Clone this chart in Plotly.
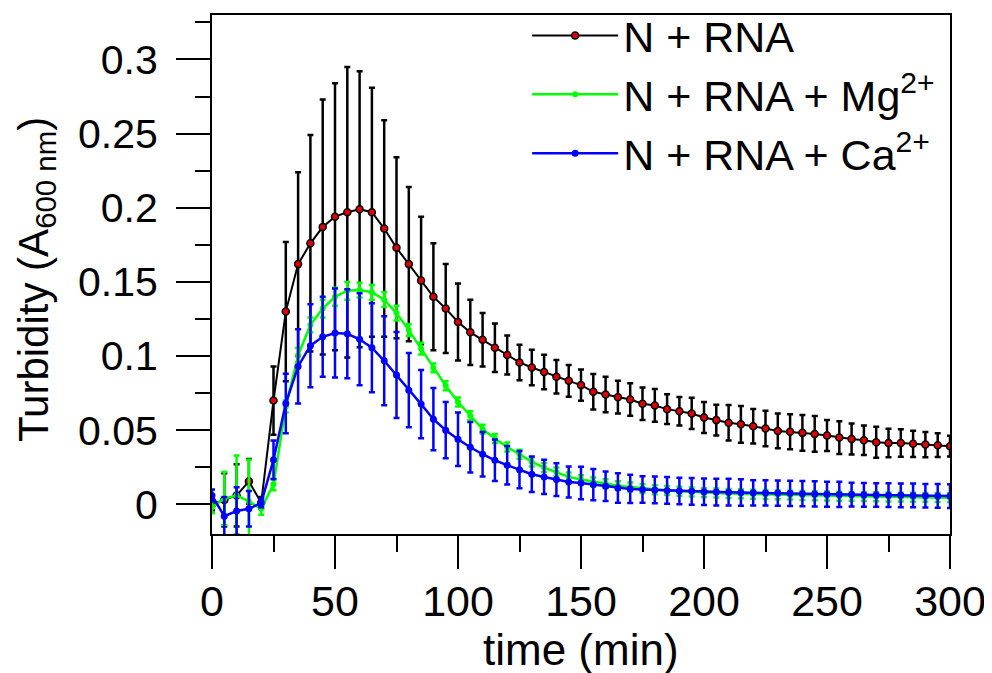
import plotly.graph_objects as go

time_min = list(range(0, 301, 5))

rna = [0.000, 0.003, 0.006, 0.0155, 0.001, 0.070, 0.130, 0.162, 0.176, 0.187,
       0.194, 0.197, 0.199, 0.197, 0.186, 0.173, 0.162, 0.151, 0.140, 0.132,
       0.123, 0.116, 0.111, 0.1056, 0.1007, 0.0957, 0.0923, 0.0892, 0.086, 0.0833,
       0.0804, 0.0759, 0.0741, 0.0723, 0.0707, 0.0678, 0.0667, 0.0642, 0.0628, 0.0613,
       0.0586, 0.0568, 0.055, 0.054, 0.0527, 0.0511, 0.0495, 0.0489, 0.0482, 0.0475,
       0.0464, 0.045, 0.0441, 0.0432, 0.0419, 0.0414, 0.0414, 0.0408, 0.0403, 0.0399,
       0.0392]
rna_err = [0.004, 0.018, 0.021, 0.015, 0.004, 0.023, 0.047, 0.062, 0.073, 0.086,
           0.090, 0.098, 0.093, 0.084, 0.073, 0.061, 0.052, 0.043, 0.036, 0.030,
           0.026, 0.022, 0.018, 0.0163, 0.0132, 0.012, 0.012, 0.0116, 0.0113, 0.0107,
           0.0106, 0.012, 0.012, 0.011, 0.011, 0.011, 0.011, 0.010, 0.0096, 0.0105,
           0.0105, 0.0104, 0.012, 0.0124, 0.0116, 0.012, 0.0117, 0.0118, 0.012, 0.012,
           0.0105, 0.011, 0.0105, 0.010, 0.0105, 0.0096, 0.0093, 0.0088, 0.0085, 0.008,
           0.007]

mg = [-0.002, 0.004, 0.006, 0.002, -0.003, 0.0135, 0.066, 0.1005, 0.121, 0.132,
      0.140, 0.144, 0.1445, 0.143, 0.138, 0.129, 0.1175, 0.105, 0.092, 0.080,
      0.069, 0.0597, 0.0507, 0.0444, 0.0387, 0.0338, 0.0286, 0.0248, 0.0218, 0.0185,
      0.0167, 0.0151, 0.014, 0.0126, 0.0117, 0.0106, 0.0098, 0.0093, 0.0088, 0.0083,
      0.0079, 0.0076, 0.0073, 0.0071, 0.0068, 0.0066, 0.0064, 0.0062, 0.0060, 0.0058,
      0.0056, 0.0055, 0.0054, 0.0052, 0.0051, 0.0050, 0.0049, 0.0048, 0.0047, 0.0046,
      0.0045]
mg_err = [0.004, 0.018, 0.027, 0.028, 0.004, 0.004, 0.004, 0.005, 0.005, 0.006,
          0.006, 0.006, 0.005, 0.005, 0.005, 0.005, 0.004, 0.004, 0.003, 0.003,
          0.003, 0.003, 0.003, 0.003, 0.003, 0.003, 0.003, 0.003, 0.003, 0.003,
          0.003, 0.003, 0.003, 0.003, 0.003, 0.003, 0.003, 0.003, 0.003, 0.003,
          0.003, 0.003, 0.003, 0.003, 0.003, 0.003, 0.003, 0.003, 0.003, 0.003,
          0.003, 0.003, 0.003, 0.003, 0.003, 0.003, 0.003, 0.003, 0.003, 0.003,
          0.003]

ca = [0.006, -0.008, -0.0045, -0.003, 0.001, 0.030, 0.068, 0.093, 0.107, 0.113,
      0.1155, 0.115, 0.1113, 0.1056, 0.0968, 0.0872, 0.077, 0.0676, 0.0574, 0.050,
      0.0439, 0.0385, 0.0338, 0.0297, 0.0264, 0.0234, 0.0203, 0.0185, 0.0167, 0.0151,
      0.0144, 0.0133, 0.0122, 0.011, 0.0104, 0.0100, 0.0097, 0.0094, 0.0090, 0.0088,
      0.0085, 0.0083, 0.0082, 0.0080, 0.0078, 0.0077, 0.0076, 0.0074, 0.0072, 0.0070,
      0.0068, 0.0067, 0.0066, 0.0064, 0.0063, 0.0062, 0.0061, 0.0060, 0.0058, 0.0057,
      0.0056]
ca_err = [0.004, 0.013, 0.016, 0.012, 0.003, 0.013, 0.020, 0.025, 0.028, 0.027,
          0.030, 0.030, 0.031, 0.030, 0.030, 0.029, 0.025, 0.023, 0.021, 0.019,
          0.018, 0.017, 0.015, 0.014, 0.013, 0.0126, 0.012, 0.0115, 0.011, 0.0105,
          0.011, 0.0105, 0.010, 0.010, 0.0095, 0.009, 0.009, 0.009, 0.009, 0.009,
          0.009, 0.009, 0.009, 0.009, 0.0085, 0.0085, 0.0085, 0.0085, 0.0085, 0.0085,
          0.0085, 0.0085, 0.008, 0.008, 0.008, 0.008, 0.008, 0.008, 0.008, 0.008,
          0.008]

y_tick_vals = [0, 0.05, 0.1, 0.15, 0.2, 0.25, 0.3]
y_tick_text = ["0", "0.05", "0.1", "0.15", "0.2", "0.25", "0.3"]
x_tick_vals = [0, 50, 100, 150, 200, 250, 300]

FONT = "Liberation Sans, Arial, Helvetica, sans-serif"

fig = go.Figure()

fig.add_trace(go.Scatter(
    x=time_min, y=rna, name="N + RNA", mode="lines+markers",
    line=dict(color="black", width=2),
    marker=dict(color="#e00000", size=7, line=dict(color="black", width=1.5)),
    error_y=dict(type="data", array=rna_err, color="black", thickness=2.5, width=3),
))
fig.add_trace(go.Scatter(
    x=time_min, y=mg, name="N + RNA + Mg<sup>2+</sup>", mode="lines+markers",
    line=dict(color="#00ff00", width=2.5),
    marker=dict(color="#00ff00", size=6),
    error_y=dict(type="data", array=mg_err, color="#00ff00", thickness=2.5, width=3),
))
fig.add_trace(go.Scatter(
    x=time_min, y=ca, name="N + RNA + Ca<sup>2+</sup>", mode="lines+markers",
    line=dict(color="#0000ff", width=2.5),
    marker=dict(color="#0000ff", size=7),
    error_y=dict(type="data", array=ca_err, color="#0000ff", thickness=2.5, width=3),
))

# The page body has an 8px default margin, so the figure is sized to fit the window.
fig.update_layout(
    width=984, height=665,
    margin=dict(l=204, r=42, t=7, b=139, autoexpand=False),
    paper_bgcolor="white", plot_bgcolor="white",
    font=dict(family=FONT, color="black", size=43),
    showlegend=True,
    legend=dict(x=0.427, y=1.027, xanchor="left", yanchor="top",
                bgcolor="rgba(0,0,0,0)", font=dict(size=43),
                tracegroupgap=0, itemwidth=86),
    annotations=[
        dict(text="Turbidity (A<sub>600 nm</sub>)", textangle=-90,
             xref="paper", yref="paper", x=-0.238, y=0.49,
             xanchor="center", yanchor="middle", showarrow=False,
             font=dict(size=42)),
        dict(text="time (min)",
             xref="paper", yref="paper", x=0.5, y=-0.222,
             xanchor="center", yanchor="middle", showarrow=False,
             font=dict(size=44)),
    ],
)
fig.update_xaxes(
    range=[0, 300], tickvals=x_tick_vals, automargin=False,
    ticks="outside", ticklen=33, tickwidth=2, tickcolor="black",
    minor=dict(ticks="outside", ticklen=16, tickwidth=2, dtick=25, tick0=0, tickcolor="black"),
    showline=True, linewidth=2, linecolor="black", mirror=True,
    showgrid=False, zeroline=False,
    tickfont=dict(size=43), ticklabelstandoff=-5,
)
fig.update_yaxes(
    range=[-0.02, 0.33], tickvals=y_tick_vals, ticktext=y_tick_text, automargin=False,
    ticks="outside", ticklen=34, tickwidth=2, tickcolor="black",
    minor=dict(ticks="outside", ticklen=15, tickwidth=2, dtick=0.025, tick0=0, tickcolor="black"),
    showline=True, linewidth=2, linecolor="black", mirror=True,
    showgrid=False, zeroline=False,
    tickfont=dict(size=41), ticklabelstandoff=10,
)

fig.write_html("out.html")
